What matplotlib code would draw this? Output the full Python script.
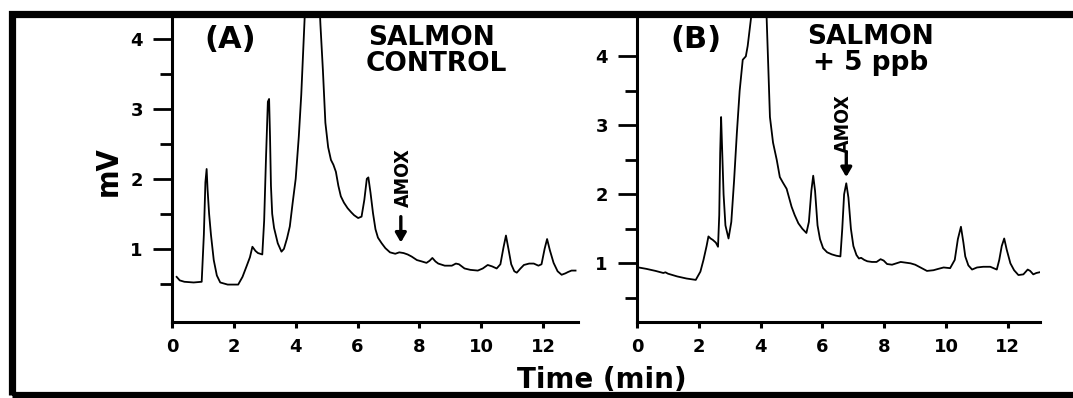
"""Amoxicillin chromatograms in salmon tissue: control vs. 5 ppb fortified."""

import matplotlib
matplotlib.use("Agg")
import matplotlib.pyplot as plt
from matplotlib.patches import Rectangle

# --- data (time in min, signal in mV) ---
t_control = [0.15, 0.25, 0.40, 0.70, 0.96, 1.03, 1.08, 1.12, 1.15, 1.20,
             1.26, 1.35, 1.45, 1.56, 1.80, 2.14, 2.28, 2.41, 2.52, 2.60,
             2.70, 2.78, 2.92, 2.98, 3.04, 3.10, 3.14, 3.17, 3.20, 3.24,
             3.30, 3.42, 3.54, 3.62, 3.72, 3.81, 3.90, 4.00, 4.10, 4.18,
             4.25, 4.32, 4.55, 4.76, 4.80, 4.88, 4.96, 5.05, 5.14, 5.22,
             5.30, 5.38, 5.46, 5.56, 5.68, 5.80, 5.89, 6.02, 6.13, 6.22,
             6.30, 6.35, 6.42, 6.50, 6.58, 6.66, 6.78, 6.90, 7.05, 7.22,
             7.35, 7.49, 7.62, 7.75, 7.92, 8.08, 8.23, 8.33, 8.42, 8.52,
             8.61, 8.82, 9.05, 9.18, 9.28, 9.46, 9.65, 9.89, 10.05, 10.21,
             10.35, 10.50, 10.62, 10.72, 10.80, 10.88, 10.97, 11.07, 11.15,
             11.27, 11.38, 11.55, 11.70, 11.85, 11.95, 12.05, 12.13, 12.22,
             12.34, 12.47, 12.60, 12.72, 12.81, 12.92, 13.05]
mv_control = [0.60, 0.55, 0.53, 0.52, 0.53, 1.20, 1.95, 2.14, 1.85, 1.50,
              1.20, 0.84, 0.62, 0.52, 0.49, 0.49, 0.60, 0.75, 0.88, 1.03,
              0.97, 0.94, 0.92, 1.40, 2.30, 3.10, 3.14, 2.60, 1.90, 1.50,
              1.30, 1.08, 0.96, 1.00, 1.15, 1.32, 1.65, 2.00, 2.60, 3.20,
              3.90, 4.60, 8.00, 4.60, 4.20, 3.55, 2.80, 2.45, 2.27, 2.20,
              2.10, 1.90, 1.75, 1.66, 1.58, 1.52, 1.48, 1.44, 1.46, 1.70,
              2.00, 2.02, 1.80, 1.51, 1.28, 1.16, 1.08, 1.01, 0.95, 0.93,
              0.95, 0.94, 0.92, 0.89, 0.84, 0.82, 0.80, 0.83, 0.87, 0.82,
              0.79, 0.76, 0.76, 0.79, 0.78, 0.72, 0.70, 0.69, 0.72, 0.77,
              0.75, 0.72, 0.78, 1.02, 1.19, 1.00, 0.78, 0.68, 0.66,
              0.72, 0.77, 0.79, 0.79, 0.76, 0.78, 1.00, 1.14, 0.98,
              0.80, 0.68, 0.63, 0.65, 0.67, 0.69, 0.69]

t_spiked = [0.05, 0.30, 0.60, 0.85, 0.92, 1.00, 1.30, 1.60, 1.90, 2.05,
            2.15, 2.25, 2.31, 2.38, 2.45, 2.55, 2.62, 2.66, 2.69, 2.72,
            2.75, 2.80, 2.86, 2.96, 3.05, 3.14, 3.23, 3.32, 3.42, 3.52,
            3.58, 3.70, 3.95, 4.19, 4.25, 4.30, 4.40, 4.52, 4.62, 4.72,
            4.84, 4.92, 5.00, 5.10, 5.22, 5.35, 5.48, 5.56, 5.64, 5.70,
            5.76, 5.84, 5.92, 6.02, 6.15, 6.30, 6.45, 6.58, 6.64, 6.70,
            6.77, 6.84, 6.92, 7.00, 7.10, 7.18, 7.25, 7.35, 7.45, 7.60,
            7.75, 7.88, 7.98, 8.09, 8.25, 8.53, 8.85, 9.00, 9.17, 9.38,
            9.59, 9.75, 9.92, 10.13, 10.28, 10.38, 10.48, 10.56, 10.62,
            10.72, 10.84, 11.00, 11.20, 11.43, 11.64, 11.72, 11.80, 11.88,
            11.96, 12.08, 12.20, 12.34, 12.50, 12.64, 12.72, 12.82, 12.92,
            13.02]
mv_spiked = [0.94, 0.92, 0.89, 0.86, 0.87, 0.85, 0.81, 0.78, 0.76, 0.88,
             1.05, 1.25, 1.39, 1.36, 1.34, 1.30, 1.24, 1.70, 2.60, 3.12,
             2.70, 2.00, 1.55, 1.36, 1.60, 2.20, 2.89, 3.50, 3.95, 4.00,
             4.15, 4.60, 7.50, 4.60, 3.80, 3.12, 2.75, 2.50, 2.25, 2.17,
             2.08, 1.95, 1.82, 1.70, 1.58, 1.50, 1.44, 1.60, 2.05, 2.27,
             2.05, 1.55, 1.35, 1.22, 1.16, 1.13, 1.11, 1.10, 1.50, 2.00,
             2.16, 1.95, 1.50, 1.25, 1.12, 1.07, 1.08, 1.05, 1.03, 1.02,
             1.02, 1.06, 1.04, 0.99, 0.98, 1.02, 1.00, 0.98, 0.94, 0.89,
             0.90, 0.92, 0.94, 0.93, 1.05, 1.35, 1.53, 1.30, 1.10,
             0.97, 0.91, 0.94, 0.95, 0.95, 0.91, 1.05, 1.25, 1.36,
             1.20, 1.00, 0.90, 0.83, 0.84, 0.91, 0.89, 0.84, 0.86,
             0.87]

x_ticks = [0, 2, 4, 6, 8, 10, 12]
y_major = [1, 2, 3, 4]
y_minor = [0.5, 1.5, 2.5, 3.5]

panel_tags = ["(A)", "(B)"]
panel_titles = [["SALMON", "CONTROL"], ["SALMON", "+ 5 ppb"]]
amox_marks = [7.40, 6.77]   # retention time the arrow points at


def set_style() -> None:
    """Bold, heavy look of the scanned figure."""
    plt.rcParams.update({
        "font.family": "DejaVu Sans",
        "font.weight": "bold",
        "figure.facecolor": "white",
        "axes.facecolor": "white",
        "axes.linewidth": 2.2,
    })


def style_axes(ax: plt.Axes, xlim, ylim) -> None:
    """Only left/bottom spines, long y ticks, short x ticks."""
    ax.set_xlim(*xlim)
    ax.set_ylim(*ylim)
    for spine in ["top", "right"]:
        ax.spines[spine].set_visible(False)
    ax.set_xticks(x_ticks)
    ax.set_yticks(y_major)
    ax.set_yticks(y_minor, minor=True)
    ax.tick_params(axis="y", which="major", direction="out", length=14,
                   width=2, pad=7, labelsize=13)
    ax.tick_params(axis="y", which="minor", direction="out", length=9,
                   width=2)
    ax.tick_params(axis="x", which="major", direction="out", length=4,
                   width=2.2, pad=8, labelsize=13)


def amox_arrow(ax: plt.Axes, x: float, y_tip: float, y_tail: float,
               y_text: float, dx_text: float) -> None:
    """Down arrow with the rotated AMOX label above it."""
    ax.annotate("", xy=(x, y_tip), xytext=(x, y_tail),
                arrowprops=dict(arrowstyle="-|>,head_width=0.32,head_length=0.55",
                                lw=2.4, color="black", shrinkA=0, shrinkB=0),
                annotation_clip=False)
    ax.text(x + dx_text, y_text, "AMOX", rotation=90, ha="center",
            va="center", fontsize=14, fontstretch="condensed",
            fontweight="bold")


set_style()
fig = plt.figure(figsize=(10.73, 3.98), dpi=100)

ax_a = fig.add_axes([0.1603, 0.1917, 0.3781, 0.7656])
ax_b = fig.add_axes([0.5937, 0.1917, 0.3756, 0.7656])

ax_a.plot(t_control, mv_control, color="black", lw=1.3)
ax_b.plot(t_spiked, mv_spiked, color="black", lw=1.3)

style_axes(ax_a, (0.14, 13.12), (-0.04, 4.31))
style_axes(ax_b, (0.04, 13.04), (0.154, 4.57))

# panel tags and sample names
ax_a.text(1.87, 3.99, panel_tags[0], ha="center", va="center", fontsize=22)
ax_b.text(1.91, 4.24, panel_tags[1], ha="center", va="center", fontsize=22)
ax_a.text(8.39, 4.01, panel_titles[0][0], ha="center", va="center",
          fontsize=19)
ax_a.text(8.55, 3.64, panel_titles[0][1], ha="center", va="center",
          fontsize=19)
ax_b.text(7.55, 4.28, panel_titles[1][0], ha="center", va="center",
          fontsize=19)
ax_b.text(7.57, 3.90, panel_titles[1][1], ha="center", va="center",
          fontsize=19)

amox_arrow(ax_a, amox_marks[0], 1.09, 1.46, 2.01, 0.07)
amox_arrow(ax_b, amox_marks[1], 2.25, 2.60, 3.03, -0.08)

fig.text(0.561, 0.046, "Time (min)", ha="center", va="center", fontsize=20)
fig.text(0.1007, 0.570, "mV", rotation=90, ha="center", va="center",
         fontsize=22, fontstretch="condensed", fontweight="bold")

# heavy scan frame (right edge falls outside the crop)
fig.add_artist(Rectangle((11.5 / 1073, 3.5 / 398), 1.2, 381 / 398,
                         transform=fig.transFigure, fill=False,
                         edgecolor="black", lw=5.2, clip_on=False))

fig.savefig("out.png", dpi=100, facecolor="white")
